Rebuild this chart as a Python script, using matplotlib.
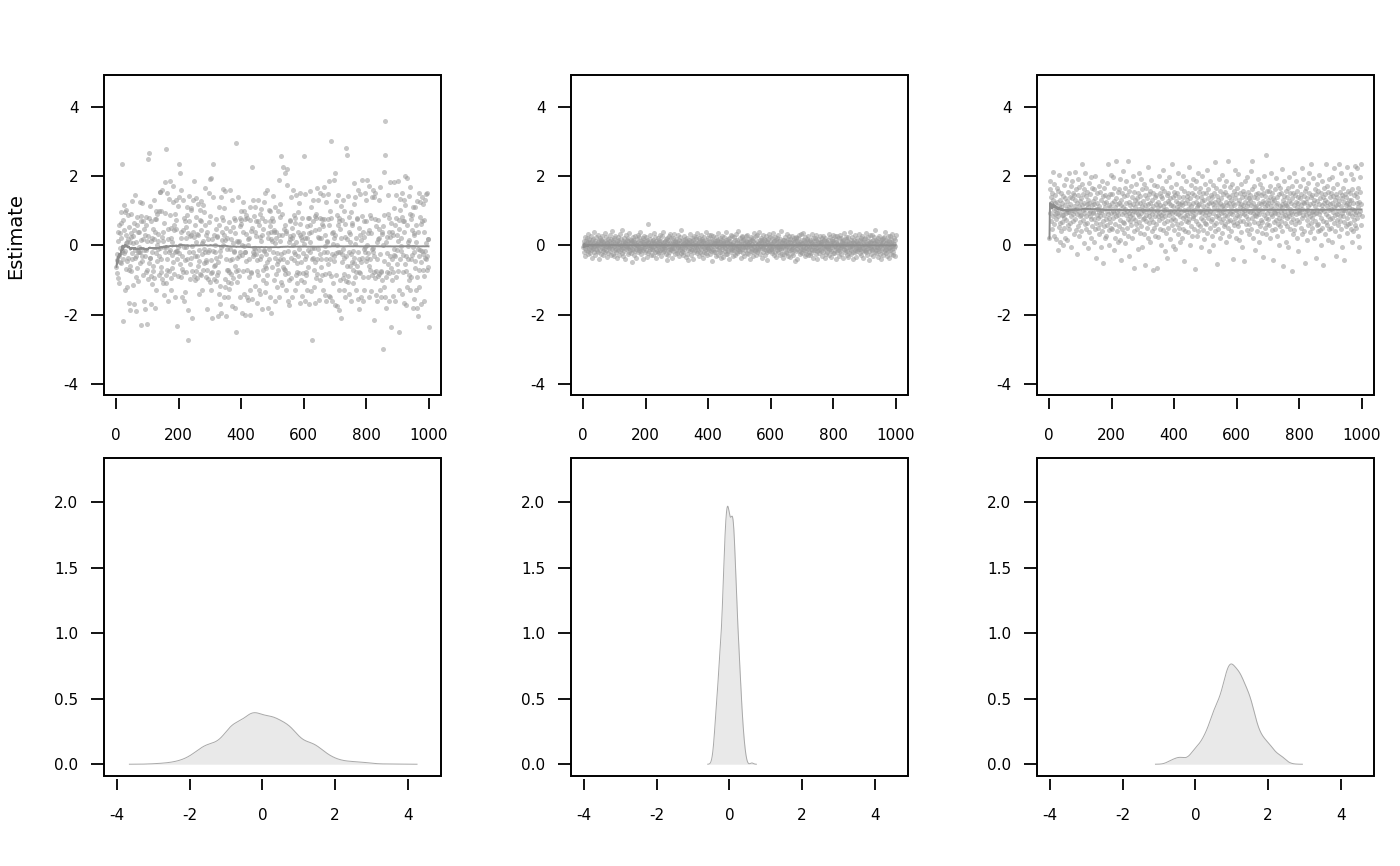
import numpy as np
import matplotlib
matplotlib.use("Agg")
import matplotlib.pyplot as plt
from matplotlib.patches import Rectangle

plt.rcParams["axes.unicode_minus"] = False

# posterior draws in hundredths, 20 iterations per row
draws_a = """
-62 -41 -25 -80 40 -95 12 -30 58 -110 37 -48 -7 -52 95 66 20 -18 -13 235
-218 72 -40 45 118 -22 96 -15 -130 30 102 -68 8 -45 11 -120 18 -35 88 -72
52 -165 10 -60 -188 25 90 -75 36 128 -22 -40 7 -115 28 65 -170 44 -12 -36
145 -92 -30 10 -190 60 -65 82 -18 -102 38 -4 40 -18 126 -50 -20 15 85 -230
70 -30 121 -44 -85 18 70 -160 -12 47 -30 -185 30 58 -78 -12 82 -228 -70 12
250 -96 27 268 -50 80 -35 115 -35 -170 70 -88 14 -20 22 -112 48 -73 -60 130
-95 18 40 -180 75 -22 75 -128 100 2 -45 90 -10 32 14 -85 98 -30 155 -8
155 -62 -78 -40 98 24 -98 160 12 -110 38 65 -5 -142 94 -20 182 -6 -85 278
-108 -72 152 -40 -160 18 48 -75 135 -18 88 -12 185 -95 50 20 -130 10 -28 -64
125 -48 172 60 -82 45 -20 92 -150 48 130 -15 74 -232 -15 -38 115 -5 -88 140
235 -22 2 210 -55 38 -90 22 160 -148 -68 -30 132 -78 45 -4 -160 80 -42 70
-135 52 20 -5 -78 88 -40 110 -272 35 -188 142 -20 70 -98 28 -55 -35 102 30
108 -210 -2 -75 130 -18 40 -88 185 25 -30 -100 60 82 -75 138 10 -95 -30 32
120 -60 30 -140 -12 -45 102 72 -82 70 128 -85 45 -25 8 -130 12 -72 118 -10
-50 95 -20 60 165 -42 -90 30 -48 -72 -185 40 -98 18 -20 -12 150 68 -105 192
85 -130 195 -42 -80 -210 18 -78 -15 140 235 -96 30 -60 2 -58 -20 75 -35 48
-102 28 -85 25 -205 -78 -48 -140 60 110 -170 -32 -15 -118 140 -5 -195 40 82 15
162 72 0 108 -150 30 15 158 -120 -98 50 -40 -205 22 -10 -70 -72 -148 -105 68
-125 -78 42 -42 160 -10 18 -110 -82 -175 -38 130 8 52 -95 -15 -20 78 -60 72
35 -180 -75 -250 295 -105 12 -35 140 -70 10 -30 -88 12 55 -150 80 -20 72 62
98 -28 -195 0 -75 125 40 -140 -2 100 -18 75 -20 -200 88 -45 32 -150 80 -70
2 -158 18 -40 -92 20 110 -202 72 -130 42 -80 -78 -155 50 225 -20 -30 130 -8
85 -25 40 112 -10 -118 28 -25 70 -165 -42 -75 -85 130 70 -128 60 -12 -140 25
92 -40 105 -30 12 30 -185 80 -72 48 -100 -12 125 -15 -135 70 -60 150 -25 -65
-110 160 -48 -85 -182 20 35 -10 102 -38 -148 55 98 70 40 -195 18 12 -62 80
142 -20 70 -100 38 45 -160 8 -35 112 -82 20 40 -55 -120 -22 -72 100 -45 30
-150 188 12 82 120 -40 258 -105 -25 30 -115 90 -62 225 -40 48 -68 -20 -72 60
210 -82 35 -130 42 175 -48 220 -160 -15 -80 -100 10 -172 18 28 72 70 -35 140
-95 50 -150 22 30 0 160 -18 88 -42 78 -25 -128 65 -85 145 10 -52 -78 -110
40 -30 95 -80 122 -10 30 -165 150 62 -100 25 -48 15 -145 80 -22 35 -80 258
-105 5 -40 148 -160 20 -78 -85 -30 20 -128 55 -62 80 -12 35 -170 78 -18 60
158 10 40 -132 110 -8 -40 -272 130 70 -35 -72 -120 -8 85 -165 45 -48 80 -95
92 -40 165 -82 25 132 -10 -158 48 20 -25 -100 80 152 -62 -40 20 75 -85 62
-130 55 145 -20 75 170 -142 30 -82 -2 125 -160 -40 10 12 -18 75 148 -55 -145
60 185 -80 98 -40 -148 78 -88 302 -25 -160 35 40 -110 5 -45 190 -30 20 210
-172 30 -22 128 -85 88 0 -175 60 -20 145 -130 70 -188 80 -20 48 -100 22 -210
115 -25 72 -48 -95 130 -10 -82 -35 100 -128 62 -150 25 280 -102 -30 18 -60 260
-88 142 -105 40 -20 82 -140 10 -60 32 -25 95 -162 58 65 -48 -110 -72 -15 120
-50 180 -35 5 -92 140 20 -78 -130 78 -60 75 160 -18 -155 50 -40 -185 -78 30
148 -80 -48 15 -150 85 -35 188 -92 -160 40 25 -10 70 -128 152 -20 -5 70 -45
130 -35 2 190 -90 -22 35 -148 45 -60 172 -72 88 -40 -132 78 35 -85 140 -10
-20 160 -8 -78 -215 140 -30 75 -95 152 -142 55 -75 10 -40 -160 72 18 -88 130
48 -82 22 -130 -25 170 -78 -75 -150 40 -100 32 0 55 -298 -120 88 -45 212 358
-150 262 -90 10 -180 25 -22 -78 90 145 -55 -162 40 78 -80 -30 25 182 -65 -235
65 -100 38 -40 -78 -145 30 182 -10 -28 108 -30 60 -160 145 80 -92 -12 30 -55
12 -75 185 -130 48 72 -250 102 -40 135 -15 22 -2 150 -140 82 -28 -78 70 132
-165 40 70 200 118 -55 -172 -75 -30 195 -120 60 -40 10 -2 -100 142 15 -85 90
-130 168 -40 75 -90 45 -28 88 -180 112 -5 35 -155 30 -20 -65 110 -45 -130 60
10 -92 -182 128 -10 38 -205 -72 -120 150 -30 -12 82 125 -48 -170 62 70 140 -15
120 -70 -25 40 -88 72 -160 -35 130 -15 8 -40 148 -30 -70 150 18 -62 18 -235
"""

draws_b = """
-5 12 -18 3 25 -8 -30 14 0 -12 7 22 -3 -26 9 -15 33 -1 18 -10
6 -22 11 -4 28 -14 2 -35 16 -7 4 19 -11 40 -2 -19 8 -27 13 1
-9 24 -16 5 -3 31 -20 10 -6 15 -38 0 21 -12 7 -25 3 17 -8 12
26 -4 -15 9 -29 2 14 -10 36 -18 5 -1 23 -13 8 -33 11 -6 19 -2
-21 13 4 -8 30 -16 -2 18 -27 6 42 -11 1 -24 15 -5 9 -31 20 -3
7 -14 27 -9 3 -20 12 0 -36 16 -6 24 -12 5 -28 10 -1 34 -17 2
-11 19 -4 45 -23 8 -7 14 -30 1 22 -15 6 -39 11 -2 29 -10 17 -5
3 -26 12 -8 20 -1 -18 35 -12 7 -4 16 -22 9 -47 13 -9 25 0 -14
15 -3 -29 10 -16 26 4 -11 8 -35 18 -6 2 31 -20 11 -2 -13 23 -7
-17 6 38 -10 13 -25 1 17 -5 -40 9 21 -14 3 -8 28 -19 5 -1 12
24 -12 -3 15 -33 7 10 -21 62 -6 2 -16 19 -9 30 -27 4 -2 13 -11
8 -28 16 -5 -12 37 -1 11 -18 3 25 -9 -36 14 0 -15 6 22 -4 -23
-2 17 -20 9 30 -14 4 -7 -31 12 1 26 -10 -19 8 -3 39 -16 11 -6
13 -9 2 -24 18 -4 -43 10 21 -13 5 -29 15 -1 27 -18 7 -11 32 -5
-14 22 -7 6 -37 11 -2 20 -16 3 34 -8 9 -26 14 -12 1 18 -21 4
10 -5 29 -17 -1 15 -32 8 -10 23 -4 -22 12 44 -15 2 -8 16 -28 5
-19 7 -11 26 3 -6 18 -34 0 14 -24 9 -3 21 -13 6 -41 17 -7 11
2 -16 33 -9 12 -27 5 -2 20 -12 8 -38 15 -4 28 -20 1 10 -14 25
-6 19 -23 4 -10 36 -15 7 -1 22 -30 11 -5 16 -18 3 30 -9 13 -26
18 -2 9 -35 14 -8 -19 24 -4 6 -13 40 -22 1 11 -29 17 -6 -11 21
-8 29 -14 2 -25 10 5 -17 31 -3 -9 19 -45 12 -1 26 -12 8 -20 4
14 -20 6 -3 23 -31 12 -9 17 -1 -27 9 35 -14 3 -6 20 -18 11 -37
1 16 -10 27 -5 -22 8 13 -34 4 -2 24 -16 9 -7 38 -26 15 -3 -12
-24 11 -1 19 -15 7 -39 21 -6 3 14 -11 30 -20 5 -8 26 -13 2 -30
9 -4 24 -12 -28 16 1 -7 33 -19 10 -3 -23 17 -10 42 -5 -16 8 -1
20 -9 -17 5 12 -36 23 -2 -11 28 -6 15 -21 3 -32 18 -14 7 -4 13
-3 27 -22 10 -6 31 -13 4 -25 9 -1 19 -40 12 2 -15 25 -8 16 -10
5 -18 12 -30 21 -5 -2 35 -16 7 -12 26 -9 -27 14 1 -20 30 -7 3
-13 8 38 -10 -3 17 -24 11 -1 22 -35 6 -8 15 -19 29 -4 -11 4 18
16 -27 3 -14 26 -6 9 -20 13 -41 2 19 -12 32 -5 -17 10 -2 24 -9
-10 4 21 -23 7 -15 37 -2 -8 14 -29 12 -4 25 -18 1 -33 16 -6 9
22 -12 -5 30 -19 3 -9 13 -27 18 -1 -14 41 -7 10 -24 6 -3 17 -36
-4 15 -26 8 -11 24 2 -18 12 -6 33 -21 5 -2 19 -30 11 -13 27 -8
11 -33 18 -3 -14 6 28 -22 1 -10 16 -4 -28 22 -12 9 -44 14 -2 20
-17 2 25 -9 13 -38 7 -1 20 -15 4 29 -24 10 -6 -19 34 -11 3 15
6 -21 -10 36 -4 17 -13 1 -31 11 23 -7 -17 4 -25 13 -2 19 -9 -28
27 -6 12 -19 3 -29 16 -11 9 -3 -22 32 -14 8 -1 21 -35 5 -12 14
-12 20 -2 -26 15 -8 31 -17 4 -40 10 -5 18 -21 6 -13 26 -3 -9 11
3 -15 9 22 -31 12 -4 -18 28 -7 1 15 -11 -36 20 -2 8 -24 13 -5
-20 10 -7 17 -2 -27 34 -13 5 -10 24 -16 7 -33 2 19 -6 12 -23 30
13 -3 -21 6 26 -14 -1 11 -39 18 -8 3 -19 27 -12 8 -4 22 -30 1
-9 31 -15 2 -6 20 -25 9 -2 14 -37 6 16 -11 -1 35 -18 4 -13 23
19 -7 5 -28 12 -16 3 -34 24 -5 10 -22 38 -9 -3 15 -14 7 -26 2
-1 25 -18 11 -40 8 -5 17 -12 29 -20 1 -8 13 -33 6 21 -15 4 -10
7 -11 33 -4 -23 15 -9 2 20 -29 12 -2 -16 26 -7 -35 9 18 -12 5
-16 21 -3 9 -12 36 -20 5 -1 -27 14 -8 23 -15 2 -42 10 -4 29 -10
12 -25 8 -14 31 -2 17 -10 -30 6 -5 24 -19 11 45 -13 3 -22 16 -6
-5 14 -33 20 -9 4 -17 28 -3 10 -24 1 15 -12 -38 19 -7 8 -28 22
9 -18 2 25 -13 -4 39 -21 7 -10 16 -30 12 -2 26 -15 4 -36 13 -7
-14 27 -6 11 -24 3 18 -11 -2 34 -19 8 -27 5 21 -8 -31 15 -3 30
"""

draws_c = """
20 162 185 94 139 71 123 116 48 152 84 212 132 28 103 178 61 123 90 145
106 19 77 165 94 126 -14 84 158 54 113 204 97 9 64 132 110 41 152 87
123 67 142 87 2 100 175 80 51 116 136 22 94 191 74 106 15 129 97 58
155 110 48 210 95 139 66 120 172 84 -4 136 103 185 71 152 90 113 32 145
100 212 77 132 45 162 106 -25 123 90 191 56 145 113 28 97 168 84 129 67
136 87 41 178 116 235 74 149 103 6 123 94 162 61 210 106 48 142 84 120
64 155 110 -7 132 94 181 38 123 84 149 100 22 198 77 116 55 165 97 129
94 9 120 162 77 48 136 201 106 64 -37 123 87 152 51 106 80 172 32 97
113 61 155 84 -4 132 97 185 41 103 142 71 -50 123 87 165 55 110 22 145
77 126 28 181 100 58 139 90 236 45 116 80 2 149 68 110 204 51 94 123
149 48 100 198 80 -14 129 94 165 61 110 22 136 84 243 41 120 97 9 155
87 123 55 162 103 15 191 74 116 -43 132 90 48 152 110 68 214 35 97 142
64 106 165 6 123 87 185 51 100 145 77 243 28 126 94 -30 158 71 116 84
172 58 103 139 22 90 201 80 120 41 155 100 -66 132 74 110 178 61 97 123
48 136 90 -10 152 106 68 210 84 123 35 142 94 191 55 113 -4 162 77 103
129 80 178 32 100 145 -56 116 71 165 87 51 136 106 227 22 120 84 149 64
97 158 9 123 77 188 106 41 132 90 -70 152 68 113 175 51 100 139 28 84
120 61 145 100 -65 172 84 126 25 110 201 74 94 152 48 116 2 142 87 165
80 136 45 113 94 217 64 103 158 -17 123 84 185 35 106 145 71 -37 129 97
152 51 123 198 87 19 136 100 74 168 116 58 236 94 -1 139 80 113 155 45
100 145 74 -10 129 94 178 61 110 152 32 123 90 210 51 106 139 9 120 84
64 165 97 126 22 116 80 201 48 139 103 -46 158 84 123 41 100 185 71 132
142 87 38 152 106 68 227 77 120 2 136 94 175 55 113 152 28 100 80 191
84 123 145 48 103 -69 165 90 126 71 185 28 110 139 61 116 210 41 97 155
120 55 100 165 80 139 -4 129 94 201 45 113 152 74 103 19 132 178 64 87
97 152 61 116 217 35 136 80 106 162 -17 123 90 185 51 100 145 71 126 28
139 77 175 2 120 94 152 58 110 240 41 126 84 165 64 103 -53 142 87 116
48 132 103 191 80 123 22 158 94 136 68 113 204 35 97 149 77 116 55 172
106 87 155 61 126 9 185 84 116 145 51 100 245 71 123 28 139 94 168 74
132 41 110 178 90 145 68 -40 123 100 158 58 116 217 80 136 22 103 149 64
87 165 55 123 100 207 15 132 84 152 71 110 178 38 120 94 139 -4 106 158
116 71 149 90 -45 126 103 185 61 139 84 113 198 45 100 155 77 123 32 136
61 145 97 132 214 48 116 80 162 245 94 22 123 103 172 68 139 87 -14 110
149 84 113 41 136 94 191 64 103 152 9 123 90 178 55 106 145 74 120 35
100 165 68 129 -33 152 87 123 201 51 110 142 80 260 32 116 94 158 61 132
77 123 158 58 103 139 22 172 90 113 210 45 126 84 152 -43 106 136 68 97
132 94 48 162 116 74 194 28 139 103 123 61 175 90 2 149 80 113 165 55
97 152 71 120 220 41 110 132 84 -60 142 100 185 64 123 87 158 9 116 80
113 55 139 94 165 -4 129 84 198 106 48 152 97 123 68 -75 136 90 172 32
152 77 116 210 45 100 145 61 126 90 185 22 110 158 74 123 -17 139 94 103
68 136 97 172 51 116 149 80 224 32 106 126 87 191 41 123 142 -50 100 158
126 87 165 15 136 103 74 181 113 58 152 94 210 38 120 84 139 64 236 97
80 145 51 123 100 194 22 132 90 162 71 113 -37 149 94 178 58 103 129 41
158 61 120 90 204 45 136 100 2 152 80 116 185 51 106 139 71 -56 123 165
100 132 32 149 90 236 68 113 172 58 126 84 15 155 103 191 48 120 139 77
51 152 106 198 80 123 9 142 97 165 64 110 224 41 132 87 -30 149 116 74
139 90 178 58 120 100 236 28 129 84 155 71 113 210 48 136 94 -4 145 103
84 165 68 126 -43 149 103 188 55 116 139 80 227 35 123 94 158 61 110 132
120 64 152 94 207 48 132 106 9 162 84 123 191 41 103 145 74 230 90 58
152 97 51 123 224 80 139 110 28 165 90 126 -4 155 100 198 58 120 236 84
"""

chains = [np.array(s.split(), dtype=float) / 100 for s in (draws_a, draws_b, draws_c)]

iter_ticks = [0, 200, 400, 600, 800, 1000]
trace_yticks = [-4, -2, 0, 2, 4]
dens_xticks = [-4, -2, 0, 2, 4]
dens_yticks = [0.0, 0.5, 1.0, 1.5, 2.0]
dens_ylabels = ["0.0", "0.5", "1.0", "1.5", "2.0"]


def density(x, n=512):
    # gaussian kde, R style bandwidth (nrd0) and cut=3
    sd = x.std(ddof=1)
    q75, q25 = np.percentile(x, [75, 25])
    bw = 0.9 * min(sd, (q75 - q25) / 1.34) * len(x) ** -0.2
    grid = np.linspace(x.min() - 3 * bw, x.max() + 3 * bw, n)
    z = (grid[:, None] - x[None, :]) / bw
    d = np.exp(-0.5 * z ** 2).sum(axis=1) / (len(x) * bw * np.sqrt(2 * np.pi))
    return grid, d


def frame(ax):
    for sp in ax.spines.values():
        sp.set_visible(False)
    ax.spines["bottom"].set_position(("outward", 2.2))
    ax.add_patch(Rectangle((0, 0), 1, 1, transform=ax.transAxes, fill=False,
                           ec="black", lw=1.4, clip_on=False, zorder=5))
    ax.tick_params(direction="out", width=1.3, labelsize=11, colors="black")
    ax.tick_params(axis="x", length=8.2, pad=13)
    ax.tick_params(axis="y", length=9.4, pad=9)


fig = plt.figure(figsize=(14, 8.66), dpi=100)
W, H = 1400, 866
lefts = [104, 571, 1037]

for i, v in enumerate(chains):
    it = np.arange(1, len(v) + 1)
    ax = fig.add_axes([lefts[i] / W, 1 - 395 / H, 337 / W, 320 / H])
    ax.scatter(it, v, s=13, color="#999999", alpha=0.55, linewidths=0)
    ax.plot(it, np.cumsum(v) / it, color="#8c8c8c", lw=1.4)
    ax.set_xlim(-39, 1040)
    ax.set_ylim(-4.32, 4.92)
    ax.set_xticks(iter_ticks)
    ax.set_yticks(trace_yticks)
    frame(ax)

    ax2 = fig.add_axes([lefts[i] / W, 1 - 776 / H, 337 / W, 318 / H])
    gx, gd = density(v)
    ax2.fill_between(gx, 0, gd, color="#e9e9e9", lw=0)
    ax2.plot(gx, gd, color="#a8a8a8", lw=0.7)
    ax2.set_xlim(-4.36, 4.92)
    ax2.set_ylim(-0.09, 2.34)
    ax2.set_xticks(dens_xticks)
    ax2.set_yticks(dens_yticks)
    ax2.set_yticklabels(dens_ylabels)
    frame(ax2)

fig.text(16 / W, 1 - 236 / H, "Estimate", rotation=90, ha="center", va="center", fontsize=14)

fig.savefig("out.png", dpi=100)
